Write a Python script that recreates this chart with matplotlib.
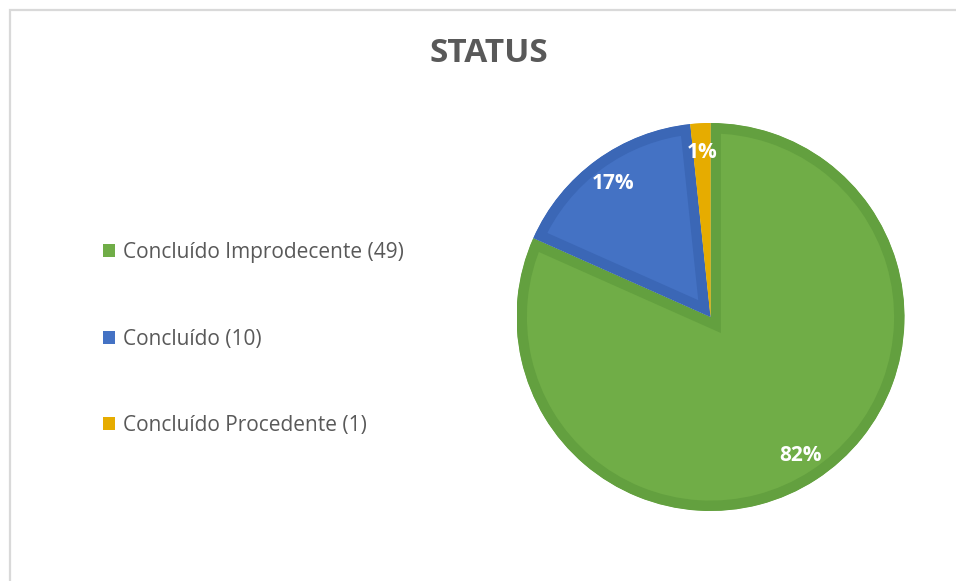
import numpy as np
import matplotlib
matplotlib.use("Agg")
import matplotlib.pyplot as plt
from matplotlib.patches import Patch, Rectangle, Wedge

# chart data
categories = ["Concluído Improdecente (49)", "Concluído (10)", "Concluído Procedente (1)"]
counts = [49, 10, 1]
pct_labels = ["82%", "17%", "1%"]
fills = ["#70AD47", "#4472C4", "#E6AC00"]
edges = ["#63A03F", "#3B67B6", "#E6AC00"]

W, H = 956, 581
fig = plt.figure(figsize=(W / 100, H / 100), dpi=100)
fig.patch.set_facecolor("white")

# light grey chart-area frame (runs off the right / bottom edges)
fig.patches.append(Rectangle((9.5 / W, -0.1), 1.2, 1 - 9.5 / H + 0.1,
                             transform=fig.transFigure, fill=False,
                             edgecolor="#D9D9D9", linewidth=1.6))

# pie axes: centre (710.5, 317) px, outer radius 194 px
cx, cy, R = 710.5, 317, 194
ax = fig.add_axes([(cx - R) / W, (H - cy - R) / H, 2 * R / W, 2 * R / H])
wedges, _ = ax.pie(counts, colors=fills, startangle=90, counterclock=False,
                   radius=1.0, wedgeprops=dict(linewidth=15))
ax.set_xlim(-1, 1)
ax.set_ylim(-1, 1)
ax.set_aspect("equal")
ax.axis("off")

# inner stroke: clip each wedge's thick edge to a copy of the wedge
# (pie turns clipping off, so switch it back on)
for w, ec in zip(wedges, edges):
    w.set_edgecolor(ec)
    w.set_joinstyle("miter")
    clip = Wedge(w.center, w.r, w.theta1, w.theta2, transform=ax.transData)
    w.set_clip_on(True)
    w.set_clip_path(clip)

# data labels
for w, lab in zip(wedges, pct_labels):
    ang = np.deg2rad((w.theta1 + w.theta2) / 2)
    d = 0.85
    ax.text(d * np.cos(ang), d * np.sin(ang), lab, ha="center", va="center",
            color="white", fontsize=15, fontweight="bold", family="Open Sans")

# title
fig.text(489 / W, 1 - 54 / H, "STATUS", ha="center", va="center",
         fontsize=24, fontweight="bold", color="#595959", family="Open Sans")

# legend
handles = [Patch(facecolor=c, edgecolor="none") for c in fills]
leg = fig.legend(handles, categories, loc="center left",
                 bbox_to_anchor=(103 / W, 1 - 339 / H), frameon=False,
                 prop=dict(family="Open Sans", size=15),
                 handlelength=0.58, handleheight=0.58, handletextpad=0.4,
                 labelspacing=3.15, borderpad=0, borderaxespad=0)
for t in leg.get_texts():
    t.set_color("#595959")

fig.savefig("out.png", dpi=100, facecolor="white")
